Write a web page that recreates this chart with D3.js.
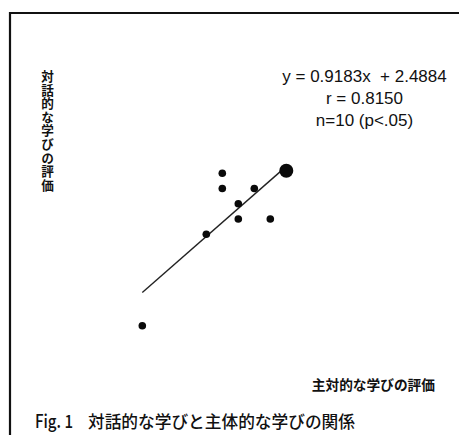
<!DOCTYPE html>
<html>
<head>
<meta charset="utf-8">
<script src="https://cdn.jsdelivr.net/npm/d3@7"></script>
<style>
  html, body { margin: 0; padding: 0; background: #fff; }
  svg { display: block; }
  text { font-family: "Noto Sans CJK JP", "Noto Sans", sans-serif; fill: #111; white-space: pre; }
  text.stat { font-family: "Liberation Sans", Arial, sans-serif; }
</style>
</head>
<body>
<div id="chart"></div>
<script>
// Scores of the ten participants (two share the point 25, 25)
const subjectiveScores = [16, 20, 21, 21, 22, 22, 23, 24, 25, 25];
const dialogicScores   = [15, 21, 25, 24, 23, 22, 24, 22, 25, 25];

// Regression statistics printed on the chart
const slope = 0.9183;
const intercept = 2.4884;
const statLines = ["y = 0.9183x  + 2.4884", "r = 0.8150", "n=10 (p<.05)"];

const yAxisLabel = "対話的な学びの評価";
const xAxisLabel = "主対的な学びの評価";
const figNumber = "Fig. 1";
const figTitle = "対話的な学びと主体的な学びの関係";

const W = 459, H = 435;
const svg = d3.select("#chart").append("svg").attr("width", W).attr("height", H);

// Frame (top and left edges)
svg.append("path")
  .attr("d", `M10,${H} V13 H${W}`)
  .attr("fill", "none").attr("stroke", "#111").attr("stroke-width", 2.2);

const x = d3.scaleLinear().domain([16, 25]).range([142.3, 286.3]);
const y = d3.scaleLinear().domain([15, 25]).range([325.7, 173.2]);

// Group coincident points so overlapping ones are drawn as one larger dot
const points = d3.rollups(
  d3.zip(subjectiveScores, dialogicScores),
  v => v.length,
  d => d[0] + "," + d[1]
).map(([k, n]) => { const [a, b] = k.split(",").map(Number); return { a, b, n }; });

// Least-squares line over the observed x range
const [x0, x1] = d3.extent(subjectiveScores);
svg.append("line")
  .attr("x1", x(x0)).attr("y1", y(slope * x0 + intercept))
  .attr("x2", x(x1)).attr("y2", y(slope * x1 + intercept))
  .attr("stroke", "#222").attr("stroke-width", 1.4);

svg.append("g").selectAll("circle")
  .data(points)
  .join("circle")
  .attr("cx", d => x(d.a))
  .attr("cy", d => y(d.b) - (d.n > 1 ? 2.5 : 0))
  .attr("r", d => d.n > 1 ? 7 : 3.8)
  .attr("fill", "#0a0a0a");

// Statistics block
svg.append("g").selectAll("text")
  .data(statLines)
  .join("text")
  .attr("class", "stat")
  .attr("x", 364.5).attr("y", (d, i) => 82 + i * 22)
  .attr("text-anchor", "middle")
  .attr("font-size", 17)
  .text(d => d);

// Vertical y-axis title: one upright character per row, vertical writing mode
svg.append("g").selectAll("text")
  .data(Array.from(yAxisLabel))
  .join("text")
  .attr("x", 47.5).attr("y", (d, i) => 70 + i * 13.6)
  .style("writing-mode", "vertical-rl")
  .attr("font-size", 12.6).attr("font-weight", 700)
  .text(d => d);

// x-axis title
svg.append("text")
  .attr("x", 435).attr("y", 390)
  .attr("text-anchor", "end")
  .attr("font-size", 13.7).attr("font-weight", 700)
  .text(xAxisLabel);

// Figure caption
svg.append("text")
  .attr("x", 35).attr("y", 428)
  .attr("font-size", 18).attr("font-weight", 500)
  .attr("textLength", 38).attr("lengthAdjust", "spacingAndGlyphs")
  .text(figNumber);
svg.append("text")
  .attr("x", 88).attr("y", 428)
  .attr("font-size", 16.7).attr("font-weight", 500)
  .text(figTitle);
</script>
</body>
</html>
